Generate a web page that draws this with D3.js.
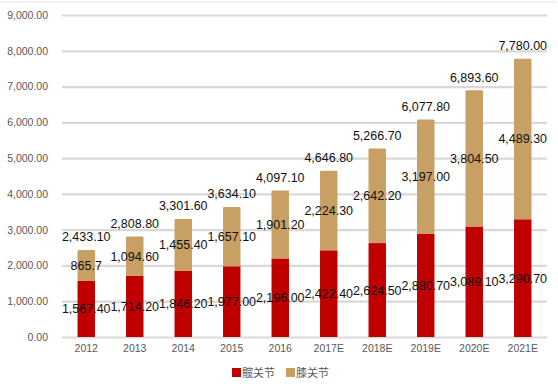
<!DOCTYPE html>
<html>
<head>
<meta charset="utf-8">
<title>髋关节 膝关节</title>
<script src="https://cdnjs.cloudflare.com/ajax/libs/d3/7.8.5/d3.min.js"></script>
<style>
  body { margin: 0; background: #fff; }
  svg { display: block; }
</style>
</head>
<body>
<svg id="svg" width="558" height="384"></svg>
<script>
const years = ['2012', '2013', '2014', '2015', '2016', '2017E', '2018E', '2019E', '2020E', '2021E'];
const hip = [1567.4, 1714.2, 1846.2, 1977.0, 2196.0, 2422.4, 2624.5, 2880.7, 3089.1, 3290.7];
const knee = [865.7, 1094.6, 1455.4, 1657.1, 1901.2, 2224.3, 2642.2, 3197.0, 3804.5, 4489.3];
const totals = [2433.1, 2808.8, 3301.6, 3634.1, 4097.1, 4646.8, 5266.7, 6077.8, 6893.6, 7780.0];
// knee label for 2012 is shown with one decimal in the source
const kneeText = ['865.7', '1,094.60', '1,455.40', '1,657.10', '1,901.20', '2,224.30', '2,642.20', '3,197.00', '3,804.50', '4,489.30'];
const yTicks = [0, 1000, 2000, 3000, 4000, 5000, 6000, 7000, 8000, 9000];
const seriesNames = ['髋关节', '膝关节'];
const colors = ['#c00000', '#c9a063'];

const svg = d3.select('#svg');
const fmt = d3.format(',.2f');

const x = d3.scaleBand().domain(years).range([62, 547]).paddingInner(0.64).paddingOuter(0.32);
const y = d3.scaleLinear().domain([0, 9000]).range([337, 15]);

// top faint border
svg.append('line').attr('x1', 0).attr('x2', 556).attr('y1', 2).attr('y2', 2)
  .attr('stroke', '#eeeeee').attr('stroke-width', 1.5);

// grid
const yAxis = svg.append('g').attr('transform', 'translate(62,0)')
  .call(d3.axisLeft(y).tickValues(yTicks).tickSize(-485).tickPadding(14).tickFormat(fmt));
yAxis.select('.domain').remove();
yAxis.selectAll('.tick line').attr('stroke', '#d9d9d9').attr('stroke-width', 2.2);
yAxis.selectAll('.tick text').attr('fill', '#595959')
  .style('font-family', 'Liberation Sans, Arial, sans-serif').style('font-size', '10.5px');

// x axis labels
const xAxis = svg.append('g').attr('transform', 'translate(0,337)')
  .call(d3.axisBottom(x).tickSize(0).tickPadding(8));
xAxis.select('.domain').remove();
xAxis.selectAll('.tick text').attr('fill', '#595959')
  .style('font-family', 'Liberation Sans, Arial, sans-serif').style('font-size', '10.5px');

// bars
const g = svg.append('g');
g.selectAll('.hip').data(years).enter().append('rect')
  .attr('x', d => x(d)).attr('width', x.bandwidth())
  .attr('y', (d, i) => y(hip[i])).attr('height', (d, i) => y(0) - y(hip[i]))
  .attr('fill', colors[0]);
g.selectAll('.knee').data(years).enter().append('rect')
  .attr('x', d => x(d)).attr('width', x.bandwidth())
  .attr('y', (d, i) => y(totals[i])).attr('height', (d, i) => y(hip[i]) - y(totals[i]))
  .attr('fill', colors[1]).attr('rx', 1);

// labels
const lab = svg.append('g').style('font-family', 'Liberation Sans, Arial, sans-serif')
  .style('font-size', '12.5px').attr('fill', '#111').attr('text-anchor', 'middle');
lab.selectAll('.lh').data(years).enter().append('text')
  .attr('x', d => x(d) + x.bandwidth() / 2)
  .attr('y', (d, i) => y(hip[i] / 2)).attr('dy', '0.36em')
  .text((d, i) => fmt(hip[i]));
lab.selectAll('.lk').data(years).enter().append('text')
  .attr('x', d => x(d) + x.bandwidth() / 2)
  .attr('y', (d, i) => y(hip[i] + knee[i] / 2)).attr('dy', '0.36em')
  .text((d, i) => kneeText[i]);
lab.selectAll('.lt').data(years).enter().append('text')
  .attr('x', d => x(d) + x.bandwidth() / 2)
  .attr('y', (d, i) => y(totals[i]) - 13).attr('dy', '0.36em')
  .text((d, i) => fmt(totals[i]));

// legend
const leg = svg.append('g').attr('transform', 'translate(232,373)');
seriesNames.forEach((n, i) => {
  const it = leg.append('g').attr('transform', `translate(${i * 54},0)`);
  it.append('rect').attr('x', 0).attr('y', -5).attr('width', 9).attr('height', 9).attr('fill', colors[i]);
  it.append('text').attr('x', 10).attr('y', 0).attr('dy', '0.36em').text(n)
    .attr('fill', '#595959').style('font-family', 'Noto Sans CJK SC, sans-serif').style('font-size', '11px');
});
</script>
</body>
</html>
